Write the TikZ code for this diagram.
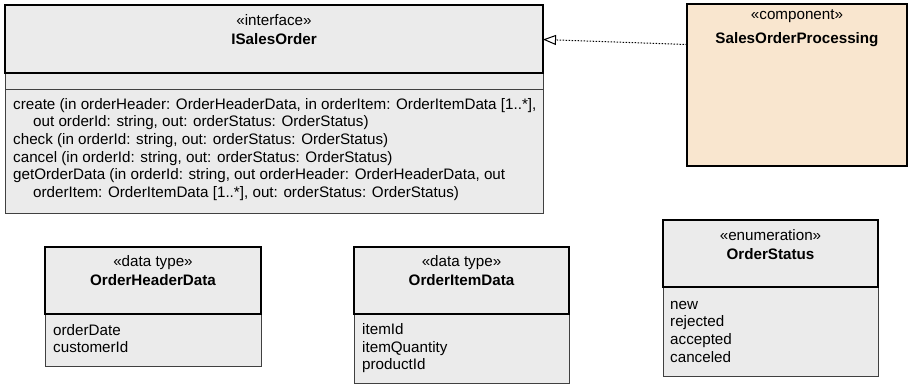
\documentclass[tikz,border=0pt]{standalone}
\usepackage{fontspec}
\setmainfont{Liberation Sans}
\usetikzlibrary{arrows.meta,calc}
\definecolor{boxfill}{HTML}{EBEBEB}
\definecolor{compfill}{HTML}{F9E6CF}
\begin{document}
\begin{tikzpicture}[x=1pt,y=-1pt,
  font=\fontsize{15.2}{17.7}\selectfont,
  hdr/.style={draw=black, line width=1.4pt, fill=boxfill, anchor=north west, inner sep=0pt, outer sep=0pt},
  cmp/.style={draw=black!75, line width=0.9pt, fill=boxfill, anchor=north west, inner sep=0pt, outer sep=0pt},
  comp/.style={draw=black, line width=1.4pt, fill=compfill, anchor=north west, inner sep=0pt, outer sep=0pt},
  txt/.style={anchor=base west, inner sep=0pt},
  ttl/.style={anchor=base, inner sep=0pt, font=\fontsize{15.2}{17.7}\selectfont\bfseries},
  st/.style={anchor=base, inner sep=0pt},
  dep/.style={line width=1pt, dash pattern=on 1.5pt off 1.5pt, -{Triangle[open, length=13pt, width=10pt, line width=1pt]}}]

\useasboundingbox (0,0) rectangle (908,384);

% ISalesOrder
\node[cmp, minimum width=538pt, minimum height=16pt] (ifaceA) at (5,73) {};
\node[cmp, minimum width=538pt, minimum height=124pt] (ifaceO) at (5,89) {};
\node[hdr, minimum width=538pt, minimum height=68pt] (ifaceH) at (5,5) {};
\node[st] (ifaceS) at (274,25) {«interface»};
\node[ttl] (ifaceT) at (274,44.3) {ISalesOrder};
\node[txt] (op1) at (13,109) {create (in orderHeader: OrderHeaderData, in orderItem: OrderItemData [1..*],};
\node[txt] (op1b) at (33,126.7) {out orderId: string, out: orderStatus: OrderStatus)};
\node[txt] (op2) at (13,144.4) {check (in orderId: string, out: orderStatus: OrderStatus)};
\node[txt] (op3) at (13,162.1) {cancel (in orderId: string, out: orderStatus: OrderStatus)};
\node[txt] (op4) at (13,179.8) {getOrderData (in orderId: string, out orderHeader: OrderHeaderData, out};
\node[txt] (op4b) at (33,197.5) {orderItem: OrderItemData [1..*], out: orderStatus: OrderStatus)};

% Component
\node[comp, minimum width=220pt, minimum height=162pt] (comp) at (687,4) {};
\node[st] (compS) at (797,19.5) {«component»};
\node[ttl] (compT) at (797,43) {SalesOrderProcessing};

% Realization
\draw[dep] ($(comp.north west)+(0,40.5)$) -- ($(ifaceH.north east)+(0,34.5)$);

% OrderHeaderData
\node[cmp, minimum width=216pt, minimum height=52pt] (ohdB) at (45,314) {};
\node[hdr, minimum width=216pt, minimum height=67pt] (ohdH) at (45,247) {};
\node[st] (ohdS) at (153,266.8) {«data type»};
\node[ttl] (ohdT) at (153,285.5) {OrderHeaderData};
\node[txt] (ohd1) at (53,335) {orderDate};
\node[txt] (ohd2) at (53,352.7) {customerId};

% OrderItemData
\node[cmp, minimum width=215pt, minimum height=69.5pt] (oidB) at (354,314) {};
\node[hdr, minimum width=215pt, minimum height=67pt] (oidH) at (354,247) {};
\node[st] (oidS) at (461.5,266.8) {«data type»};
\node[ttl] (oidT) at (461.5,285.5) {OrderItemData};
\node[txt] (oid1) at (362,334.3) {itemId};
\node[txt] (oid2) at (362,352) {itemQuantity};
\node[txt] (oid3) at (362,369.7) {productId};

% OrderStatus
\node[cmp, minimum width=215pt, minimum height=89pt] (osB) at (663,287) {};
\node[hdr, minimum width=215pt, minimum height=67pt] (osH) at (663,220) {};
\node[st] (osS) at (770.5,240.5) {«enumeration»};
\node[ttl] (osT) at (770.5,259.3) {OrderStatus};
\node[txt] (os1) at (670,309) {new};
\node[txt] (os2) at (670,326.7) {rejected};
\node[txt] (os3) at (670,344.4) {accepted};
\node[txt] (os4) at (670,362.1) {canceled};
\end{tikzpicture}
\end{document}
